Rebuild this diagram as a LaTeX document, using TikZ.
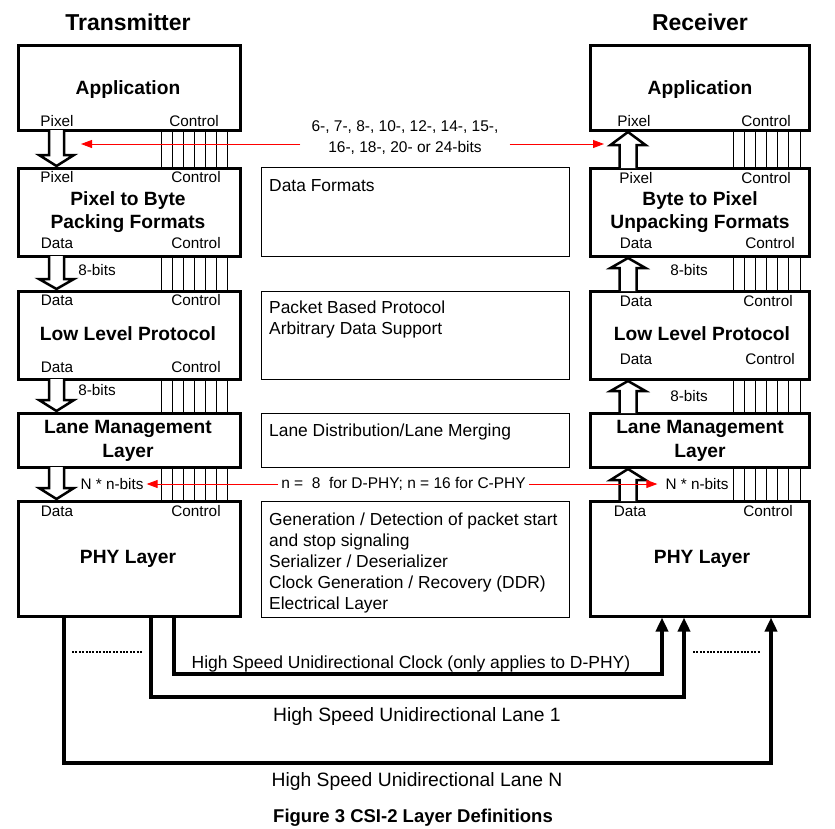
\documentclass[tikz,border=0pt]{standalone}
\usepackage{fontspec}
\setmainfont{Liberation Sans}
\usetikzlibrary{arrows.meta,calc}
\newcommand\hollowDown[5]{% cx, top, base, tip, shaft half
  \draw[hollow] (#1-#5,#2) -- (#1-#5,#3) -- (#1-17.5,#3) -- (#1,#4) -- (#1+17.5,#3) -- (#1+#5,#3) -- (#1+#5,#2);}
\begin{document}
\begin{tikzpicture}[x=1pt,y=-1pt,
  layerbox/.style={draw, line width=3pt, inner sep=0pt},
  midbox/.style={draw, line width=0.9pt, inner sep=0pt, minimum width=308pt},
  lab/.style={font=\fontsize{15.3}{18}\selectfont, inner sep=0pt, text height=11pt, text depth=0pt},
  ttl/.style={font=\bfseries\fontsize{19.2}{23}\selectfont, inner sep=0pt, text height=13.8pt, text depth=0pt},
  bigttl/.style={font=\bfseries\fontsize{23}{27}\selectfont, inner sep=0pt, text height=16.5pt, text depth=0pt},
  midtxt/.style={font=\fontsize{17.4}{21}\selectfont, inner sep=0pt, anchor=west, text height=12.5pt, text depth=0pt},
  redlab/.style={font=\fontsize{15.5}{21}\selectfont, inner ysep=0pt},
  redarr/.style={red, line width=0.9pt, -{Triangle[length=11pt,width=8pt]}},
  ctl/.style={line width=0.7pt},
  hollow/.style={line width=2.5pt, fill=white},
  wire/.style={line width=4.5pt, -{Triangle[length=14pt,width=12pt]}},
  wirelab/.style={font=\fontsize{17.5}{21}\selectfont, inner sep=0pt, text height=12.5pt, text depth=0pt},
  lanelab/.style={font=\fontsize{19.3}{23}\selectfont, inner sep=0pt, text height=13.8pt, text depth=0pt},
  dots/.style={line width=2.2pt, dash pattern=on 2pt off 1.4pt}
]
\useasboundingbox (0,0) rectangle (835,828);

% titles
\node[bigttl] (ttx) at (128,22) {Transmitter};
\node[bigttl] (trx) at (700,22) {Receiver};

% left boxes
\node[layerbox, minimum width=222pt, minimum height=85pt] (tapp) at (129,87.5) {};
\node[layerbox, minimum width=222pt, minimum height=88pt] (tp2b) at (129,212) {};
\node[layerbox, minimum width=222pt, minimum height=88pt] (tllp) at (129,335) {};
\node[layerbox, minimum width=222pt, minimum height=54pt] (tlml) at (129,440) {};
\node[layerbox, minimum width=222pt, minimum height=115pt] (tphy) at (129,558.5) {};

% right boxes
\node[layerbox, minimum width=219pt, minimum height=85pt] (rapp) at (699.5,87.5) {};
\node[layerbox, minimum width=219pt, minimum height=88pt] (rb2p) at (699.5,212) {};
\node[layerbox, minimum width=219pt, minimum height=88pt] (rllp) at (699.5,335) {};
\node[layerbox, minimum width=219pt, minimum height=54pt] (rlml) at (699.5,440) {};
\node[layerbox, minimum width=219pt, minimum height=115pt] (rphy) at (699.5,558.5) {};

% middle boxes
\node[midbox, minimum height=89pt] (mfmt) at (415,211.5) {};
\node[midbox, minimum height=88pt] (mpkt) at (415,335) {};
\node[midbox, minimum height=54pt] (mlane) at (415,440) {};
\node[midbox, minimum height=116pt] (mphy) at (415,559) {};

% bold box titles left
\node[ttl] (tappT) at (128,88) {Application};
\node[ttl] (tp2bT1) at (128,199) {Pixel to Byte};
\node[ttl] (tp2bT2) at (128,222) {Packing Formats};
\node[ttl] (tllpT) at (128,334) {Low Level Protocol};
\node[ttl] (tlmlT1) at (128,427) {Lane Management};
\node[ttl] (tlmlT2) at (128,451) {Layer};
\node[ttl] (tphyT) at (128,557) {PHY Layer};

% bold box titles right
\node[ttl] (rappT) at (700,88) {Application};
\node[ttl] (rb2pT1) at (700,199) {Byte to Pixel};
\node[ttl] (rb2pT2) at (700,222) {Unpacking Formats};
\node[ttl] (rllpT) at (702,334) {Low Level Protocol};
\node[ttl] (rlmlT1) at (700,427) {Lane Management};
\node[ttl] (rlmlT2) at (700,451) {Layer};
\node[ttl] (rphyT) at (702,557) {PHY Layer};

% small labels left
\node[lab] (l1) at (57,121) {Pixel};
\node[lab] (l2) at (194,121) {Control};
\node[lab] (l3) at (57,177) {Pixel};
\node[lab] (l4) at (196,177) {Control};
\node[lab] (l5) at (57,243) {Data};
\node[lab] (l6) at (196,243) {Control};
\node[lab] (l7) at (57,300) {Data};
\node[lab] (l8) at (196,300) {Control};
\node[lab] (l9) at (57,367) {Data};
\node[lab] (l10) at (196,367) {Control};
\node[lab] (l11) at (57,511) {Data};
\node[lab] (l12) at (196,511) {Control};
\node[lab] (l13) at (97,270) {8-bits};
\node[lab] (l14) at (97,390) {8-bits};
\node[lab, inner xsep=3pt] (tnb) at (112,484) {N * n-bits};

% small labels right
\node[lab] (q1) at (634,121) {Pixel};
\node[lab] (q2) at (766,121) {Control};
\node[lab] (q3) at (636,178) {Pixel};
\node[lab] (q4) at (766,178) {Control};
\node[lab] (q5) at (636,243) {Data};
\node[lab] (q6) at (770,243) {Control};
\node[lab] (q7) at (636,301) {Data};
\node[lab] (q8) at (768,301) {Control};
\node[lab] (q9) at (636,359) {Data};
\node[lab] (q10) at (770,359) {Control};
\node[lab] (q11) at (630,511) {Data};
\node[lab] (q12) at (768,511) {Control};
\node[lab] (q13) at (689,270) {8-bits};
\node[lab] (q14) at (689,396) {8-bits};
\node[lab, inner xsep=8pt] (rnb) at (697,484) {N * n-bits};

% middle texts
\node[midtxt] (m1a) at (269,185) {Data Formats};
\node[midtxt] (m2a) at (269,307) {Packet Based Protocol};
\node[midtxt] (m2b) at (269,328) {Arbitrary Data Support};
\node[midtxt] (m3a) at (269,430) {Lane Distribution/Lane Merging};
\node[midtxt] (m4a) at (269,519) {Generation / Detection of packet start};
\node[midtxt] (m4b) at (269,540) {and stop signaling};
\node[midtxt] (m4c) at (269,561) {Serializer / Deserializer};
\node[midtxt] (m4d) at (269,582) {Clock Generation / Recovery (DDR)};
\node[midtxt] (m4e) at (269,603) {Electrical Layer};

% control lines
\foreach \a/\b in {tapp/tp2b, tp2b/tllp, tllp/tlml, tlml/tphy}
  \foreach \o in {32,43,54,65,76,87,98}
    \draw[ctl] ([xshift=\o pt]\a.south) -- ([xshift=\o pt]\b.north);
\foreach \a/\b in {rapp/rb2p, rb2p/rllp, rllp/rlml, rlml/rphy}
  \foreach \o in {33.5,44.6,55.8,66.9,78.1,89.3,100.5}
    \draw[ctl] ([xshift=\o pt]\a.south) -- ([xshift=\o pt]\b.north);

% hollow arrows left (down)
\hollowDown{56.5}{130}{155}{166}{7.5}
\hollowDown{56.5}{256}{279}{289}{7.5}
\hollowDown{56.5}{379}{400}{411}{7.5}
\hollowDown{56.5}{467}{488}{499}{7.5}
% hollow arrows right (up)
\hollowDown{628}{168}{145}{132}{8.5}
\hollowDown{628}{291}{268}{258}{8.5}
\hollowDown{628}{413}{391}{381}{8.5}
\hollowDown{628}{501}{480}{469}{8.5}

% red annotations
\node[redlab, align=center, inner xsep=11pt] (rfmt) at (405,138) {6-, 7-, 8-, 10-, 12-, 14-, 15-,\\16-, 18-, 20- or 24-bits};
\coordinate (r1L) at (81,144);
\coordinate (r1R) at (604,144);
\draw[redarr] (rfmt.west |- r1L) -- (r1L);
\draw[redarr] (rfmt.east |- r1R) -- (r1R);

\node[redlab, inner xsep=3pt] (rn) at (403.5,484) {n =\ \ 8\ \ for D-PHY; n = 16 for C-PHY};
\draw[redarr] (rn.west) -- (tnb.east);
\draw[redarr] (rn.east) -- (rnb.west);

% PHY wires
\coordinate (ckA) at (174,674);
\coordinate (ckB) at (662,674);
\coordinate (l1A) at (151,697);
\coordinate (l1B) at (684,697);
\coordinate (lnA) at (64,763);
\coordinate (lnB) at (771,763);
\draw[wire] (tphy.south -| ckA) -- (ckA) -- (ckB) -- (rphy.south -| ckB);
\draw[wire] (tphy.south -| l1A) -- (l1A) -- (l1B) -- (rphy.south -| l1B);
\draw[wire] (tphy.south -| lnA) -- (lnA) -- (lnB) -- (rphy.south -| lnB);

\coordinate (d1a) at (72,652);
\coordinate (d1b) at (142,652);
\coordinate (d2a) at (693,652);
\coordinate (d2b) at (760,652);
\draw[dots] (d1a) -- (d1b);
\draw[dots] (d2a) -- (d2b);

\node[wirelab] (wck) at (411,662) {High Speed Unidirectional Clock (only applies to D-PHY)};
\node[lanelab] (wl1) at (417,715) {High Speed Unidirectional Lane 1};
\node[lanelab] (wln) at (417,780) {High Speed Unidirectional Lane N};

% caption
\node[font=\bfseries\fontsize{18.5}{22}\selectfont, inner sep=0pt, text height=13.3pt, text depth=0pt] (cap) at (413,816) {Figure 3 CSI-2 Layer Definitions};
\end{tikzpicture}
\end{document}
